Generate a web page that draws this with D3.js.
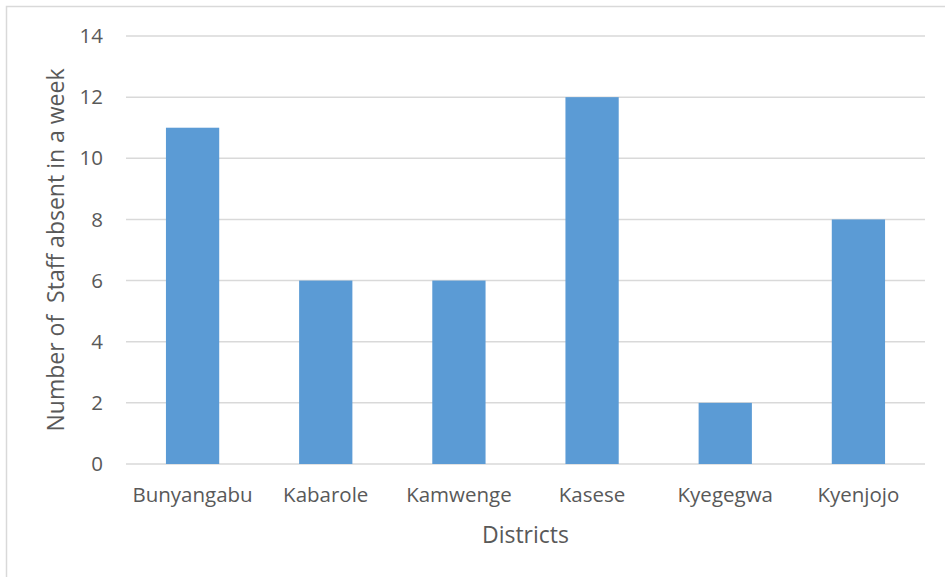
<!DOCTYPE html>
<html><head><meta charset="utf-8">
<script src="https://cdn.jsdelivr.net/npm/d3@7"></script>
<style>body{margin:0;background:#fff;} text{font-family:"Open Sans",sans-serif;fill:#595959;white-space:pre;}</style>
</head><body>
<svg id="c" width="945" height="577"></svg>
<script>
const categories = ["Bunyangabu","Kabarole","Kamwenge","Kasese","Kyegegwa","Kyenjojo"];
const values = [11,6,6,12,2,8];
const yTicks = [0,2,4,6,8,10,12,14];
const yTitle = "Number of  Staff absent in a week";
const xTitle = "Districts";

const svg = d3.select("#c");
svg.append("rect").attr("x",6.5).attr("y",6.5).attr("width",945).attr("height",580)
  .attr("fill","#fff").attr("stroke","#d9d9d9").attr("stroke-width",1.5);

const m = {l:126, r:925, t:36, b:464};
const x = d3.scaleBand().domain(categories).range([m.l,m.r]).paddingInner(0.6).paddingOuter(0.3);
const y = d3.scaleLinear().domain([0,14]).range([m.b,m.t]);

const g = svg.append("g");
g.selectAll("line.grid").data(yTicks).join("line")
  .attr("x1",m.l).attr("x2",m.r).attr("y1",d=>y(d)).attr("y2",d=>y(d))
  .attr("stroke","#d9d9d9").attr("stroke-width",1.5);

g.selectAll("rect.bar").data(values).join("rect")
  .attr("x",(d,i)=>x(categories[i])).attr("width",x.bandwidth())
  .attr("y",d=>y(d)).attr("height",d=>y(0)-y(d)).attr("fill","#5b9bd5");

g.selectAll("text.yt").data(yTicks).join("text")
  .attr("x",103).attr("y",d=>y(d)).attr("dy","0.35em").attr("text-anchor","end")
  .attr("font-size",20.5).text(d=>d);

g.selectAll("text.xt").data(categories).join("text")
  .attr("x",d=>x(d)+x.bandwidth()/2).attr("y",502).attr("text-anchor","middle")
  .attr("font-size",20.5).text(d=>d);

svg.append("text").attr("transform",`translate(64,${(m.t+m.b)/2}) rotate(-90)`)
  .attr("text-anchor","middle").attr("font-size",23).text(yTitle);
svg.append("text").attr("x",(m.l+m.r)/2).attr("y",543).attr("text-anchor","middle")
  .attr("font-size",23).text(xTitle);
</script>
</body></html>
